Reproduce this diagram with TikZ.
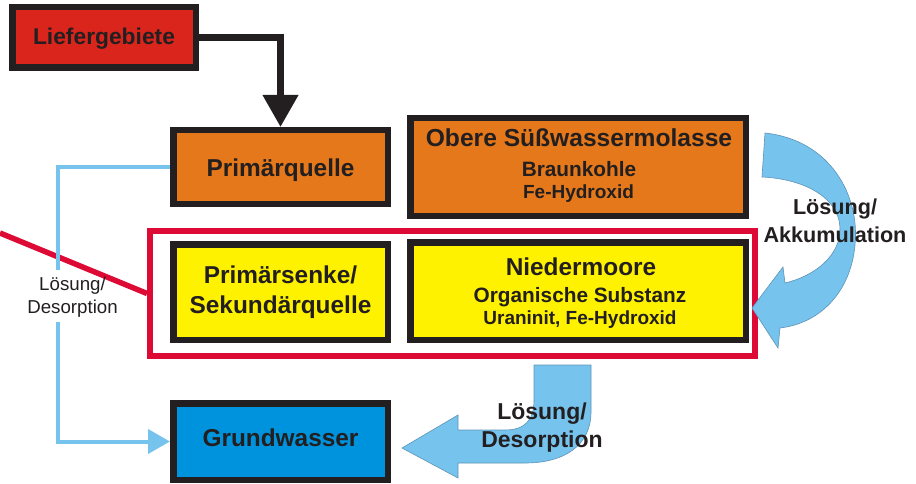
\documentclass[tikz,border=0pt]{standalone}
\usepackage{fontspec}
\setmainfont{Liberation Sans}
\usetikzlibrary{arrows.meta}
\definecolor{liefred}{HTML}{DA251D}
\definecolor{orng}{HTML}{E5781A}
\definecolor{yell}{HTML}{FFF200}
\definecolor{gwblue}{HTML}{0093DD}
\definecolor{lblue}{HTML}{76C4EE}
\definecolor{lbedge}{HTML}{5F93B5}
\definecolor{framered}{HTML}{DD0A35}
\definecolor{bord}{HTML}{231F20}
\begin{document}
\begin{tikzpicture}[x=1pt,y=-1pt,
  box/.style={draw=bord, line width=6.5pt, inner sep=0pt, text=bord, align=center,
    font=\bfseries\fontsize{24.4}{30}\selectfont},
  tA/.style={text=bord, inner sep=0pt, anchor=base, font=\bfseries\fontsize{24.4}{28}\selectfont},
  tB/.style={text=bord, inner sep=0pt, anchor=base, font=\bfseries\fontsize{20.8}{24}\selectfont},
  tC/.style={text=bord, inner sep=0pt, anchor=base, font=\bfseries\fontsize{19}{22}\selectfont},
  bigarr/.style={fill=lblue, draw=lbedge, line width=0.6pt},
  lbline/.style={draw=lblue, line width=4pt},
  lbl/.style={text=bord, inner sep=0pt, align=center}
]
\useasboundingbox (0,0) rectangle (916,484);

% red frame and pointer line
\node[draw=framered, line width=6pt, minimum width=605pt, minimum height=125pt, inner sep=0pt] (frame) at (452.5,293.5) {};
\coordinate (r0) at (0,233);
\draw[framered, line width=5.5pt] (r0) -- (frame.west);

% boxes
\node[box, fill=liefred, minimum width=183.5pt, minimum height=60.5pt, text height=15pt, text depth=0pt,
  font=\bfseries\fontsize{22.8}{28}\selectfont] (lief) at (104,37.5) {Liefergebiete};
\node[box, fill=orng, minimum width=214.5pt, minimum height=73.5pt, text height=20pt, text depth=0pt] (prim) at (280.5,167) {Primärquelle};
\node[box, fill=orng, minimum width=335.5pt, minimum height=97.5pt] (obere) at (578,167) {};
\node[box, fill=yell, minimum width=214.5pt, minimum height=95.5pt] (senke) at (280.5,292) {Primärsenke/\\Sekundärquelle};
\node[box, fill=yell, minimum width=335.5pt, minimum height=97.5pt] (nieder) at (578,291) {};
\node[box, fill=gwblue, minimum width=214.5pt, minimum height=76.5pt, text height=18pt, text depth=8pt] (grund) at (280.5,441.5) {Grundwasser};

% texts in the two wide boxes
\node[tA, font=\bfseries\fontsize{24.6}{28}\selectfont] (ob1) at (579,147) {Obere Süßwassermolasse};
\node[tB] (ob2) at (579,176) {Braunkohle};
\node[tC] (ob3) at (578.5,198) {Fe-Hydroxid};
\node[tA] (ni1) at (581,275) {Niedermoore};
\node[tB] (ni2) at (580,302) {Organische Substanz};
\node[tC] (ni3) at (580,324) {Uraninit, Fe-Hydroxid};

% black arrow
\draw[draw=bord, line width=7pt, -{Triangle[width=34pt,length=32pt]}] (lief.east) -| (prim.north);

% light blue line with label
\node[lbl, font=\fontsize{18.7}{23}\selectfont] (lbleft) at (72.5,296.7) {Lösung/\\Desorption};
\coordinate (g1) at (58,270);
\coordinate (g2) at (58,322);
\draw[lbline] (prim.west) -| (g1);
\draw[lbline, -{Triangle[width=24pt,length=22pt]}] (g2) |- (grund.west);

% curved arrow right
\draw[bigarr] (765,133) .. controls (830,140) and (860,195) .. (855,245)
  .. controls (851,290) and (822,323) .. (780,328) -- (778,348) -- (752,308) -- (783,267) -- (785,283)
  .. controls (815,276) and (841,255) .. (840,228)
  .. controls (839,198) and (805,179) .. (762,177) -- cycle;
\node[lbl, font=\bfseries\fontsize{21.6}{28}\selectfont] (lbright) at (835,221) {Lösung/\\Akkumulation};

% curved arrow bottom
\draw[bigarr] (534,365) -- (591,365) -- (591,412) .. controls (591,445) and (565,463) .. (525,463)
  -- (458,463) -- (458,478) -- (402,448) -- (458,415) -- (458,430) -- (505,430)
  .. controls (525,430) and (534,420) .. (534,400) -- cycle;
\node[lbl, font=\bfseries\fontsize{23}{28}\selectfont] (lbbottom) at (542,428) {Lösung/\\Desorption};
\end{tikzpicture}
\end{document}
